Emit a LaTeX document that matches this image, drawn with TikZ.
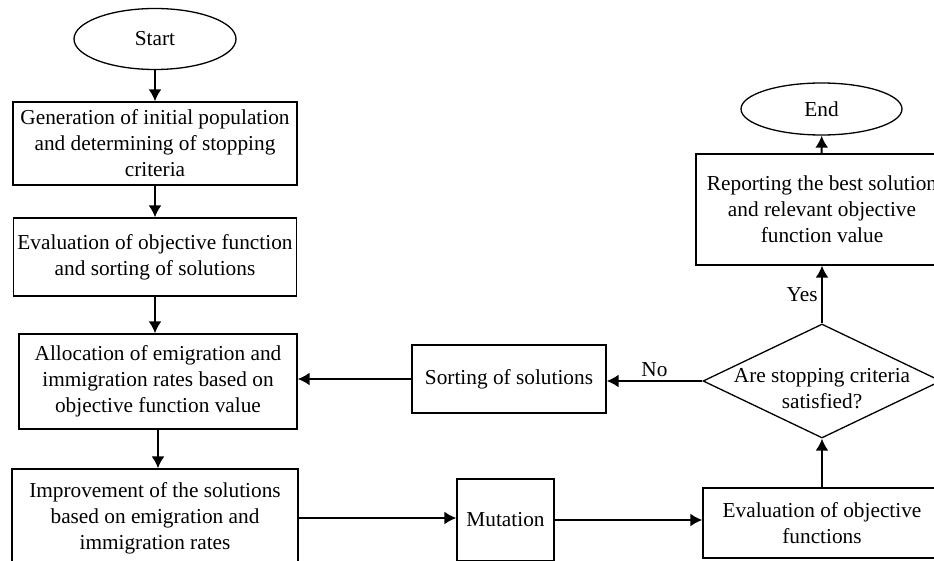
\documentclass[tikz,border=0pt]{standalone}
\usepackage{fontspec}
\setmainfont{Liberation Serif}
\usetikzlibrary{shapes.geometric,arrows.meta,positioning}
\tikzset{
block/.style = {draw, fill=white, rectangle, align=center, line width=1.3pt, inner sep=3pt},
terminal/.style = {draw, fill=white, ellipse, align=center, line width=1.3pt, inner sep=0pt},
condition/.style = {draw, fill=white, diamond, line width=1.3pt, inner sep=0pt},
flow/.style = {->, line width=2pt},
}

\begin{document}
\begin{tikzpicture}[x=1pt, y=-1pt, >={Latex[length=12pt,width=13pt]}, font=\fontsize{21.3}{26}\selectfont]
    \useasboundingbox (0,0) rectangle (934,561);
    \clip (0,0) rectangle (934,561);
    % left column
    \node [terminal, minimum width=162pt, minimum height=61pt] (start) at (155,39) {Start};
    \node [block, minimum width=284pt, minimum height=83pt] (gen) at (155,143.5)
      {Generation of initial population\\and determining of stopping\\criteria};
    \node [block, minimum width=283pt, minimum height=78pt] (eval) at (155,257)
      {Evaluation of objective function\\and sorting of solutions};
    \node [block, minimum width=278pt, minimum height=95pt] (alloc) at (158,381.5)
      {Allocation of emigration and\\immigration rates based on\\objective function value};
    \node [block, minimum width=286pt, minimum height=98pt] (improve) at (155,518)
      {Improvement of the solutions\\based on emigration and\\immigration rates};
    % middle
    \node [block, minimum width=194pt, minimum height=68pt] (sorting) at (509,379) {Sorting of solutions};
    \node [block, minimum width=97pt, minimum height=82pt] (mutation) at (505.5,520) {Mutation};
    % right column
    \node [block, minimum width=238pt, minimum height=70pt] (evalobj) at (822,523)
      {Evaluation of objective\\functions};
    \node [condition, minimum width=238pt, minimum height=114pt] (check) at (822,381) {};
    \node [align=center, inner sep=0pt] (checktext) at (822,389) {Are stopping criteria\\satisfied?};
    \node [block, minimum width=252pt, minimum height=111pt] (report) at (822,209.5)
      {Reporting the best solution\\and relevant objective\\function value};
    \node [terminal, minimum width=161pt, minimum height=52pt] (end) at (821.5,109) {End};

    \draw [flow] (start) -- (gen);
    \draw [flow] (gen) -- (eval);
    \draw [flow] (eval.south) -- (eval.south |- alloc.north);
    \draw [flow] (alloc.south) -- (alloc.south |- improve.north);
    \draw [flow] (improve.east) -- (improve.east -| mutation.west);
    \draw [flow] (mutation.east) -- (mutation.east -| evalobj.west);
    \draw [flow] (evalobj) -- (check);
    \draw [flow] (check) -- node [left] {Yes} (report);
    \draw [flow] (report) -- (end);
    \draw [flow] (check.west) -- node [above] {No} (check.west -| sorting.east);
    \draw [flow] (sorting.west) -- (sorting.west -| alloc.east);
\end{tikzpicture}
\end{document}
